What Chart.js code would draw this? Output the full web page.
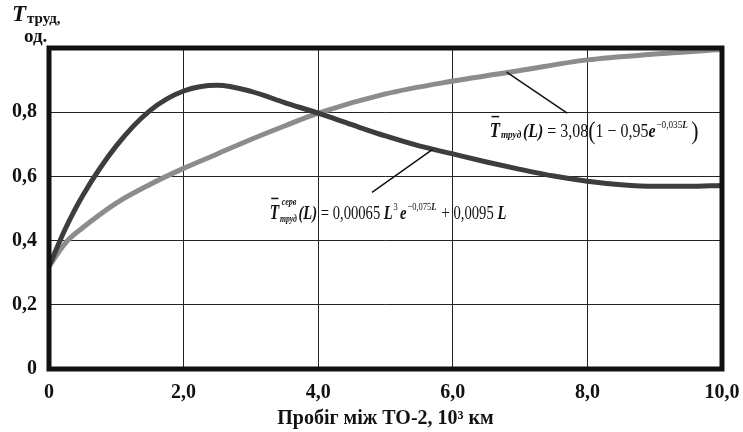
<!DOCTYPE html>
<html>
<head>
<meta charset="utf-8">
<script src="https://cdn.jsdelivr.net/npm/chart.js@4.4.1/dist/chart.umd.min.js"></script>
<style>
  html, body { margin: 0; padding: 0; background: #fff; }
  #wrap { width: 743px; height: 432px; position: relative; }
</style>
</head>
<body>
<div id="wrap"><canvas id="myChart" width="743" height="432"></canvas></div>
<script>
// values (mileage in 10^3 km)
const darkMileage = [0, 0.25, 0.5, 1.0, 1.5, 2.0, 2.5, 3.0, 3.5, 4.0, 4.5, 5.0, 5.5, 6.0, 6.5, 7.0, 7.5, 8.0, 8.5, 9.0, 9.5, 10]
const darkValues  = [0.32, 0.44, 0.54, 0.695, 0.805, 0.866, 0.884, 0.865, 0.83, 0.797, 0.761, 0.726, 0.695, 0.67, 0.645, 0.622, 0.601, 0.585, 0.574, 0.569, 0.569, 0.572]

const lightMileage = [0, 0.25, 0.5, 1.0, 1.5, 2.0, 2.5, 3.0, 3.5, 4.0, 5.0, 6.0, 7.0, 8.0, 9.0, 10]
const lightValues  = [0.32, 0.394, 0.44, 0.517, 0.575, 0.625, 0.67, 0.715, 0.757, 0.797, 0.857, 0.897, 0.93, 0.963, 0.981, 0.995]

const xTicks = [0, 2, 4, 6, 8, 10]
const yTicks = [0, 0.2, 0.4, 0.6, 0.8, 1.0]
const xTitle = "Пробіг між ТО-2, 10³ км"

const serif = "'Liberation Serif', 'DejaVu Serif', serif"

function toPoints(xs, ys) {
    return xs.map((x, i) => ({x: x, y: ys[i]}))
}

function fmt(v) {
    if (v == 0) return "0"
    return v.toFixed(1).replace(".", ",")
}

// draw a row of text pieces, each with its own font and vertical shift,
// squeezed horizontally by sx
function drawRuns(ctx, x, y, sx, runs) {
    ctx.save()
    ctx.translate(x, y)
    ctx.scale(sx, 1)
    let cx = 0
    runs.forEach((r) => {
        ctx.font = r.font
        ctx.fillText(r.t, cx, r.dy || 0)
        let w = ctx.measureText(r.t).width
        if (r.bar) {
            ctx.fillRect(cx + 2, -21, w - 3, 1.5)
        }
        cx += w + (r.gap || 0)
    })
    ctx.restore()
}

const frameAndNotes = {
    id: "frameAndNotes",
    afterDatasetsDraw(chart) {
        const ctx = chart.ctx
        const a = chart.chartArea
        const xs = chart.scales.x
        const ys = chart.scales.y
        ctx.save()

        // leader lines
        ctx.strokeStyle = "#111"
        ctx.lineWidth = 1.5
        ctx.beginPath()
        ctx.moveTo(xs.getPixelForValue(6.8), ys.getPixelForValue(0.925))
        ctx.lineTo(xs.getPixelForValue(7.7), ys.getPixelForValue(0.797))
        ctx.moveTo(xs.getPixelForValue(5.7), ys.getPixelForValue(0.684))
        ctx.lineTo(xs.getPixelForValue(4.8), ys.getPixelForValue(0.55))
        ctx.stroke()

        // frame
        ctx.strokeStyle = "#111"
        ctx.lineWidth = 5
        ctx.strokeRect(a.left, a.top, a.right - a.left, a.bottom - a.top)

        // formulas
        ctx.fillStyle = "#111"
        ctx.textAlign = "left"
        ctx.textBaseline = "alphabetic"
        const f1x = xs.getPixelForValue(6.55)
        const f1y = ys.getPixelForValue(0.745) + 7
        drawRuns(ctx, f1x, f1y, 0.84, [
            {t: "T", font: "bold italic 20px " + serif, bar: true, gap: 1},
            {t: "труд", font: "bold italic 11px " + serif, dy: 1, gap: 2},
            {t: "(L)", font: "bold italic 19px " + serif},
            {t: " = 3,08", font: "19px " + serif},
            {t: "(", font: "26px " + serif, dy: 2},
            {t: "1 − 0,95", font: "19px " + serif},
            {t: "e", font: "bold italic 19px " + serif, gap: 1},
            {t: "−0,035", font: "11px " + serif, dy: -9},
            {t: "L", font: "bold italic 11px " + serif, dy: -9, gap: 4},
            {t: ")", font: "26px " + serif, dy: 2}
        ])

        const f2x = xs.getPixelForValue(3.28)
        const f2y = ys.getPixelForValue(0.49) + 7
        drawRuns(ctx, f2x + 12, f2y - 14, 0.8, [
            {t: "серв", font: "bold italic 10px " + serif}
        ])
        drawRuns(ctx, f2x, f2y, 0.77, [
            {t: "T", font: "bold italic 20px " + serif, bar: true, gap: 1},
            {t: "труд", font: "bold italic 10px " + serif, dy: 3, gap: 2},
            {t: "(L)", font: "bold italic 19px " + serif},
            {t: " = 0,00065 ", font: "19px " + serif},
            {t: "L", font: "bold italic 19px " + serif, gap: 1},
            {t: "3", font: "11px " + serif, dy: -9, gap: 3},
            {t: "e", font: "bold italic 19px " + serif, gap: 1},
            {t: "−0,075", font: "11px " + serif, dy: -9},
            {t: "L", font: "bold italic 11px " + serif, dy: -9, gap: 2},
            {t: " + 0,0095 ", font: "19px " + serif},
            {t: "L", font: "bold italic 19px " + serif}
        ])

        // y axis title
        ctx.font = "bold italic 23px " + serif
        ctx.fillText("T", 12, 21)
        ctx.font = "bold 15px " + serif
        ctx.fillText("труд,", 27, 23)
        ctx.font = "bold 19px " + serif
        ctx.fillText("од.", 24, 42)

        ctx.restore()
    }
}

const ctx = document.getElementById("myChart")
const myChart = new Chart(ctx, {
    type: "line",
    data: {
        datasets: [
            {
                label: "Tтруд серв",
                data: toPoints(darkMileage, darkValues),
                borderColor: "#3d3d3d",
                borderWidth: 5,
                pointRadius: 0,
                cubicInterpolationMode: "monotone",
                order: 1
            },
            {
                label: "Tтруд",
                data: toPoints(lightMileage, lightValues),
                borderColor: "#8c8c8c",
                borderWidth: 5,
                pointRadius: 0,
                cubicInterpolationMode: "monotone",
                order: 2
            }
        ]
    },
    options: {
        responsive: false,
        animation: false,
        events: [],
        layout: { padding: { top: 48, right: 21, left: 0, bottom: 0 } },
        plugins: {
            legend: { display: false },
            tooltip: { enabled: false }
        },
        scales: {
            x: {
                type: "linear",
                min: 0,
                max: 10,
                afterBuildTicks: (scale) => { scale.ticks = xTicks.map((v) => ({value: v})) },
                afterFit: (scale) => { scale.height = 63; scale.paddingLeft = 0; scale.paddingRight = 0 },
                grid: { color: "#222", lineWidth: 1, drawTicks: false },
                border: { display: false },
                ticks: {
                    padding: 12,
                    color: "#111",
                    font: { family: serif, size: 20, weight: "bold" },
                    callback: (v) => fmt(v)
                },
                title: {
                    display: true,
                    text: xTitle,
                    color: "#111",
                    font: { family: serif, size: 20, weight: "bold" },
                    padding: { top: 0, bottom: 1 }
                }
            },
            y: {
                min: 0,
                max: 1,
                afterBuildTicks: (scale) => { scale.ticks = yTicks.map((v) => ({value: v})) },
                afterFit: (scale) => { scale.width = 49; scale.paddingTop = 0; scale.paddingBottom = 0 },
                grid: { color: "#222", lineWidth: 1, drawTicks: false },
                border: { display: false },
                ticks: {
                    padding: 12,
                    color: "#111",
                    font: { family: serif, size: 20, weight: "bold" },
                    callback: (v) => (v >= 1 ? "" : fmt(v))
                }
            }
        }
    },
    plugins: [frameAndNotes]
})
</script>
</body>
</html>
